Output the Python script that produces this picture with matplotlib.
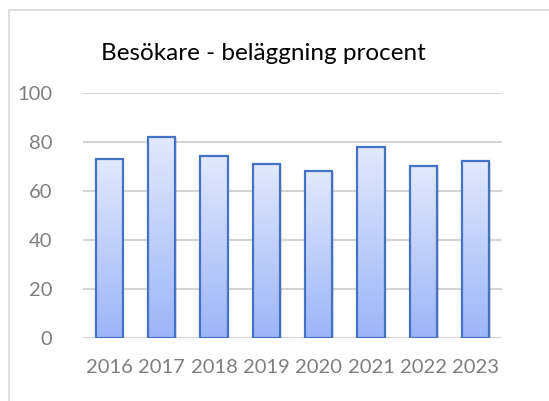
import numpy as np
import matplotlib
matplotlib.use("Agg")
import matplotlib.pyplot as plt
from matplotlib.patches import Rectangle
from matplotlib.colors import LinearSegmentedColormap

# Data
years = ["2016", "2017", "2018", "2019", "2020", "2021", "2022", "2023"]
belaggning = [73, 82, 74, 71, 68, 78, 70, 72]
title = "Besökare - beläggning procent"

W, H = 549, 401
fig = plt.figure(figsize=(W / 100, H / 100), dpi=100)
fig.patch.set_facecolor("white")

# chart frame (ram runt diagrammet)
fig.patches.append(Rectangle((9 / W, -0.1), 1.1, 1.1 - 10 / H + 0.0,
                             transform=fig.transFigure, fill=False,
                             edgecolor="#d9d9d9", linewidth=1.2))

ax = fig.add_axes([83 / W, (H - 338) / H, (502 - 83) / W, (338 - 92.7) / H])
x = np.arange(len(years))
bars = ax.bar(x, belaggning, width=0.52, color="none",
              edgecolor="#4472c4", linewidth=1.6, zorder=3)

# gradient fill inside each bar
cmap = LinearSegmentedColormap.from_list("grad", ["#9db5f8", "#e2e9fc"])
grad = np.linspace(0, 1, 256).reshape(-1, 1)
for b in bars:
    x0, y0 = b.get_x(), b.get_y()
    w, h = b.get_width(), b.get_height()
    # shadow
    ax.add_patch(Rectangle((x0 + 0.03, y0), w, h - 0.4, facecolor="#000000",
                           alpha=0.12, edgecolor="none", zorder=1.5))
    im = ax.imshow(grad, cmap=cmap, aspect="auto", origin="lower",
                   extent=(x0, x0 + w, y0, y0 + h), zorder=2)
    im.set_clip_path(b)

ax.set_xlim(-0.5, len(years) - 0.5)
ax.set_ylim(0, 100)
ax.set_yticks(range(0, 101, 20))
ax.set_xticks(x)
ax.set_xticklabels(years)
ax.yaxis.grid(True, color="#d4d4d4", linewidth=1.5, zorder=0)
ax.set_axisbelow(True)
for s in ax.spines.values():
    s.set_visible(False)
ax.tick_params(length=0, labelsize=14.5, colors="#7f7f7f", labelfontfamily="Lato")
ax.tick_params(axis="x", pad=15)
ax.tick_params(axis="y", pad=22)

fig.text(263 / W, 1 - 53 / H, title, ha="center", va="center",
         fontsize=17.5, family="Lato", color="black")

fig.savefig("out.png", dpi=100)
